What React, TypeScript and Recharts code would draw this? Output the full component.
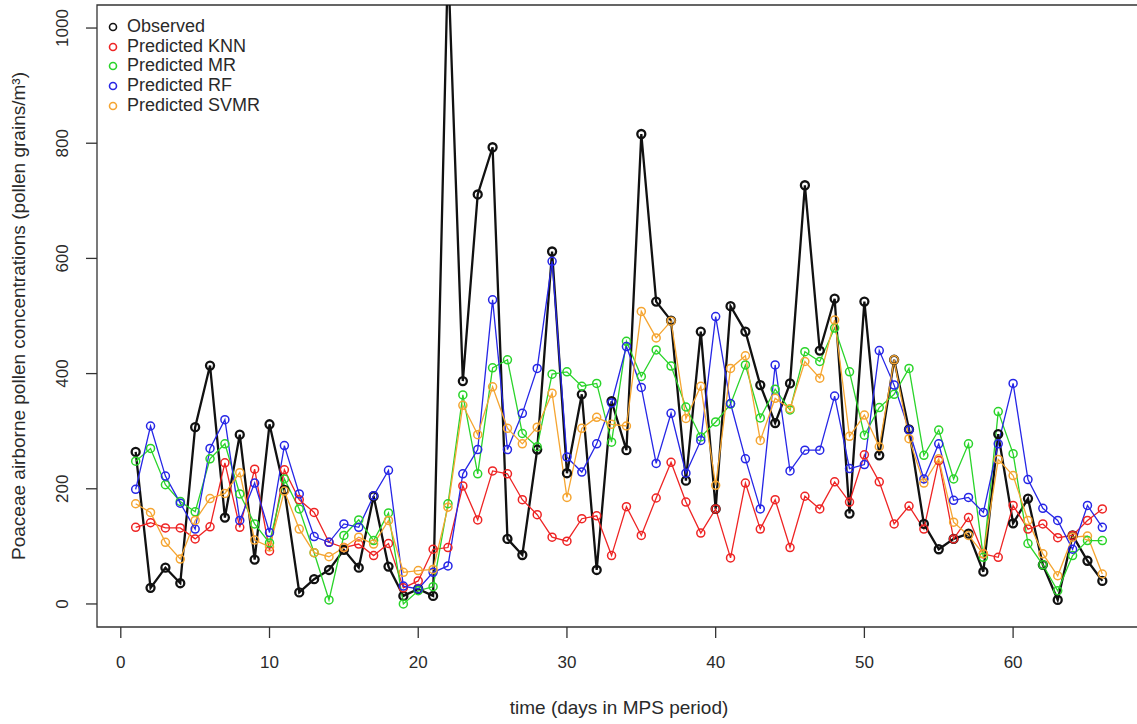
import React from 'react';
import { LineChart, Line, XAxis, YAxis, ReferenceArea, Label } from 'recharts';

const days = [1,2,3,4,5,6,7,8,9,10,11,12,13,14,15,16,17,18,19,20,21,22,23,24,25,26,27,28,29,30,31,32,33,34,35,36,37,38,39,40,41,42,43,44,45,46,47,48,49,50,51,52,53,54,55,56,57,58,59,60,61,62,63,64,65,66];

const observed = [264,28,63,36,307,414,150,294,77,312,198,20,43,59,94,63,187,65,14,26,14,1120,387,711,793,113,85,268,612,227,364,59,352,267,816,525,492,214,473,165,517,473,380,314,383,727,440,530,157,525,258,424,303,139,95,113,122,56,295,140,183,68,7,119,75,40];

const predKNN = [133,141,132,132,113,134,245,133,234,92,233,181,159,107,98,104,84,105,28,40,95,98,205,146,231,226,181,155,116,109,148,153,84,169,119,184,246,177,123,165,80,210,130,181,98,187,165,212,177,259,212,139,170,130,249,113,150,87,81,171,130,139,115,119,145,165];

const predMR = [248,270,207,178,160,252,278,191,139,106,217,165,89,7,119,146,110,158,0,23,30,174,363,226,410,424,296,273,399,403,378,383,281,456,395,441,413,342,290,316,347,415,323,373,337,438,421,479,403,293,341,364,409,258,302,217,278,81,334,261,105,68,23,84,110,110];

const predRF = [199,309,222,175,130,270,320,145,210,124,275,191,117,107,139,133,188,232,31,26,55,66,226,268,528,268,331,409,595,255,229,278,349,447,376,244,331,227,284,499,348,252,165,415,231,267,267,361,235,242,440,380,302,217,278,180,185,159,278,383,216,166,145,95,171,133];

const predSVMR = [174,159,107,78,145,183,192,228,111,99,196,130,89,82,98,116,104,145,55,58,60,168,345,294,377,305,278,307,366,185,305,324,312,309,508,462,491,322,378,206,409,431,284,357,339,421,392,493,291,328,273,424,287,210,252,142,119,87,251,223,145,87,49,116,118,52];

const xTicks = [0, 10, 20, 30, 40, 50, 60];
const yTicks = [0, 200, 400, 600, 800, 1000];

const seriesKeys = ['observed', 'knn', 'mr', 'rf', 'svmr'];
const seriesNames = ['Observed', 'Predicted KNN', 'Predicted MR', 'Predicted RF', 'Predicted SVMR'];
const seriesColors = ['#111111', '#ee2424', '#2ad42a', '#2626e6', '#f5a531'];

const data = days.map((d, i) => ({
  day: d,
  observed: observed[i],
  knn: predKNN[i],
  mr: predMR[i],
  rf: predRF[i],
  svmr: predSVMR[i],
}));

const FONT = '"Liberation Sans", Arial, Helvetica, sans-serif';
const TEXT = '#2a2a2a';

const XTick = (props: any) => {
  const { x, y, payload } = props;
  return (
    <text x={x} y={y + 22} textAnchor="middle" dominantBaseline="central" fontFamily={FONT} fontSize={17} fill={TEXT}>
      {payload.value}
    </text>
  );
};

const YTick = (props: any) => {
  const { x, y, payload } = props;
  const cx = x - 21;
  return (
    <text x={cx} y={y} transform={`rotate(-90 ${cx} ${y})`} textAnchor="middle" dominantBaseline="central" fontFamily={FONT} fontSize={17} fill={TEXT}>
      {payload.value}
    </text>
  );
};

function LegendBox() {
  return (
    <div style={{ position: 'absolute', left: 106, top: 17, fontFamily: FONT, fontSize: 18, color: TEXT, lineHeight: '19.7px', pointerEvents: 'none' }}>
      {seriesNames.map((n, i) => (
        <div key={n} style={{ display: 'flex', alignItems: 'center', height: 19.7 }}>
          <svg width={14} height={14} style={{ marginRight: 7 }}>
            <circle cx={7} cy={7} r={3.5} fill="none" stroke={seriesColors[i]} strokeWidth={1.6} />
          </svg>
          <span>{n}</span>
        </div>
      ))}
    </div>
  );
}

export default function App() {
  return (
    <div style={{ position: 'absolute', left: 0, top: 0, width: 1137, height: 724, overflow: 'hidden', background: '#fff' }}>
      <LineChart width={1150} height={724} data={data} margin={{ top: 5, right: 9, bottom: 0, left: 0 }}>
        <XAxis
          dataKey="day"
          type="number"
          domain={[-1.6, 68.6]}
          ticks={xTicks}
          allowDataOverflow
          axisLine={false}
          tickSize={11}
          tickLine={{ stroke: '#333', strokeWidth: 1.3 }}
          tick={<XTick />}
          height={97}
          interval={0}
        >
          <Label
            content={(p: any) => {
              const vb = p.viewBox;
              return (
                <text x={vb.x + vb.width / 2} y={vb.y + 80} textAnchor="middle" dominantBaseline="central" fontFamily={FONT} fontSize={19} fill={TEXT}>
                  time (days in MPS period)
                </text>
              );
            }}
          />
        </XAxis>
        <YAxis
          type="number"
          domain={[-40, 1040]}
          ticks={yTicks}
          allowDataOverflow
          axisLine={false}
          tickSize={11}
          tickLine={{ stroke: '#333', strokeWidth: 1.3 }}
          tick={<YTick />}
          width={97}
          interval={0}
        >
          <Label
            content={(p: any) => {
              const vb = p.viewBox;
              const cx = vb.x + 18;
              const cy = vb.y + vb.height / 2;
              return (
                <text x={cx} y={cy} transform={`rotate(-90 ${cx} ${cy})`} textAnchor="middle" dominantBaseline="central" fontFamily={FONT} fontSize={19} fill={TEXT}>
                  Poaceae airborne pollen concentrations (pollen grains/m³)
                </text>
              );
            }}
          />
        </YAxis>
        <ReferenceArea x1={-1.6} x2={68.6} y1={-40} y2={1040} fill="none" stroke="#333" strokeWidth={1.3} ifOverflow="visible" />
        {seriesKeys.map((k, i) => (
          <Line
            key={k}
            dataKey={k}
            name={seriesNames[i]}
            type="linear"
            stroke={seriesColors[i]}
            strokeWidth={i === 0 ? 2.3 : 1.3}
            dot={{ r: 4, fill: 'none', stroke: seriesColors[i], strokeWidth: i === 0 ? 2.3 : 1.5 }}
            activeDot={false}
            isAnimationActive={false}
          />
        ))}
      </LineChart>
      <LegendBox />
    </div>
  );
}
